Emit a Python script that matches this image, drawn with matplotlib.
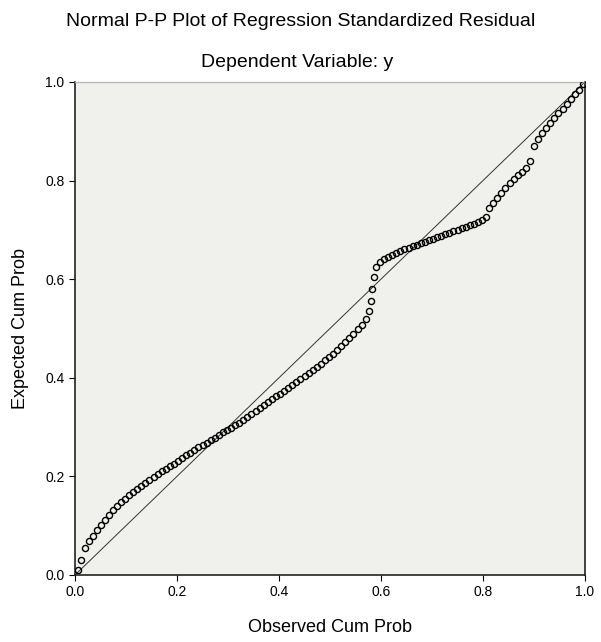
import matplotlib
matplotlib.use('Agg')
import matplotlib.pyplot as plt

plt.rcParams['font.family'] = ['Liberation Sans', 'DejaVu Sans']

title = 'Normal P-P Plot of Regression Standardized Residual'
subtitle = 'Dependent Variable: y'
x_label = 'Observed Cum Prob'
y_label = 'Expected Cum Prob'
tick_values = [0.0, 0.2, 0.4, 0.6, 0.8, 1.0]
tick_labels = ['0.0', '0.2', '0.4', '0.6', '0.8', '1.0']

# observed cumulative probability
observed = [
    0.005, 0.012, 0.020, 0.028, 0.035, 0.043, 0.050, 0.058, 0.066, 0.074,
    0.082, 0.090, 0.098, 0.106, 0.114, 0.122, 0.130, 0.138, 0.146, 0.154,
    0.162, 0.170, 0.178, 0.186, 0.194, 0.202, 0.210, 0.218, 0.226, 0.234,
    0.242, 0.250, 0.258, 0.266, 0.274, 0.282, 0.290, 0.298, 0.306, 0.314,
    0.322, 0.330, 0.338, 0.346, 0.354, 0.362, 0.370, 0.378, 0.386, 0.394,
    0.402, 0.410, 0.418, 0.426, 0.434, 0.442, 0.450, 0.458, 0.466, 0.474,
    0.482, 0.490, 0.498, 0.506, 0.514, 0.522, 0.530, 0.538, 0.546, 0.554,
    0.562, 0.570, 0.576, 0.580, 0.583, 0.586, 0.590, 0.598, 0.606, 0.614,
    0.622, 0.630, 0.638, 0.646, 0.654, 0.662, 0.670, 0.678, 0.686, 0.694,
    0.702, 0.710, 0.718, 0.726, 0.734, 0.742, 0.750, 0.758, 0.766, 0.774,
    0.782, 0.790, 0.798, 0.806, 0.812, 0.820, 0.828, 0.836, 0.844, 0.852,
    0.860, 0.868, 0.876, 0.884, 0.892, 0.900, 0.908, 0.916, 0.924, 0.932,
    0.940, 0.948, 0.956, 0.964, 0.972, 0.980, 0.988, 0.996,
]

# expected cumulative probability
expected = [
    0.010, 0.030, 0.055, 0.068, 0.080, 0.092, 0.102, 0.112, 0.122, 0.132,
    0.140, 0.148, 0.155, 0.162, 0.168, 0.175, 0.181, 0.187, 0.193, 0.198,
    0.204, 0.210, 0.215, 0.221, 0.226, 0.232, 0.237, 0.243, 0.248, 0.254,
    0.259, 0.264, 0.268, 0.273, 0.278, 0.283, 0.289, 0.294, 0.299, 0.304,
    0.309, 0.314, 0.320, 0.326, 0.332, 0.338, 0.344, 0.350, 0.356, 0.362,
    0.368, 0.374, 0.380, 0.386, 0.392, 0.398, 0.404, 0.410, 0.416, 0.422,
    0.428, 0.435, 0.442, 0.449, 0.456, 0.464, 0.472, 0.480, 0.489, 0.498,
    0.508, 0.520, 0.535, 0.555, 0.580, 0.605, 0.625, 0.635, 0.640, 0.645,
    0.649, 0.653, 0.657, 0.661, 0.664, 0.667, 0.670, 0.673, 0.676, 0.679,
    0.682, 0.685, 0.688, 0.691, 0.694, 0.697, 0.700, 0.703, 0.706, 0.709,
    0.712, 0.716, 0.720, 0.726, 0.745, 0.755, 0.765, 0.775, 0.785, 0.795,
    0.803, 0.811, 0.818, 0.825, 0.840, 0.870, 0.885, 0.897, 0.907, 0.917,
    0.927, 0.936, 0.945, 0.955, 0.965, 0.975, 0.984, 0.995,
]

fig = plt.figure(figsize=(6.01, 6.42), dpi=100)
fig.patch.set_facecolor('white')
ax = fig.add_axes([0.1248, 0.1044, 0.8486, 0.768])
ax.set_facecolor('#f0f0ec')

# reference diagonal
ax.plot([0, 1], [0, 1], color='#333333', linewidth=0.7, zorder=2)
ax.plot(observed, expected, linestyle='none', marker='o', markersize=4.4,
        markerfacecolor='none', markeredgecolor='black',
        markeredgewidth=1.0, zorder=3)

ax.set_xlim(0, 1)
ax.set_ylim(0, 1)
ax.set_xticks(tick_values)
ax.set_xticklabels(tick_labels)
ax.set_yticks(tick_values)
ax.set_yticklabels(tick_labels)
ax.tick_params(direction='out', length=4, width=0.8, labelsize=10,
               colors='black')

for side in ['left', 'bottom', 'right']:
    ax.spines[side].set_color('#222222')
    ax.spines[side].set_linewidth(1.2)
ax.spines['top'].set_color('#bbbbbb')
ax.spines['top'].set_linewidth(1.0)

ax.set_xlabel(x_label, fontsize=13, labelpad=14)
ax.set_ylabel(y_label, fontsize=13, labelpad=12)

fig.text(0.5, 0.966, title, ha='center', va='center', fontsize=14)
fig.text(0.495, 0.903, subtitle, ha='center', va='center', fontsize=14)

fig.savefig('out.png', dpi=100)
